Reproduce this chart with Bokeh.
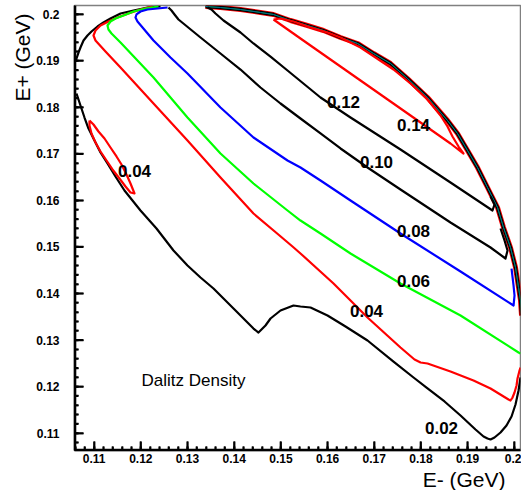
import numpy as np
from bokeh.plotting import figure
from bokeh.models import Range1d, FixedTicker, Title, CustomJSTickFormatter
from bokeh.embed import file_html
from bokeh.resources import INLINE
from bokeh.core.properties import value

# ---------------- data (E- , E+ in GeV) ----------------
# 0.02 contour, upper-left part along the kinematic boundary
c002a_x = [0.10599, 0.10664, 0.10706, 0.10771, 0.10856, 0.10942, 0.11071, 0.11199,
           0.11349, 0.11564, 0.11842, 0.12142, 0.12421]
c002a_y = [0.18984, 0.19177, 0.19285, 0.19435, 0.19543, 0.19628, 0.19736, 0.19822,
           0.19908, 0.20015, 0.20079, 0.20144, 0.20165]
# 0.02 contour, lower part
c002b_x = [0.10621, 0.10706, 0.10792, 0.10878, 0.11006, 0.11135, 0.11285, 0.11456,
           0.11649, 0.11992, 0.12335, 0.12699, 0.12999, 0.13278, 0.13556, 0.13985,
           0.14413, 0.14520, 0.14670, 0.14778, 0.14992, 0.15270, 0.15420, 0.15635,
           0.15999, 0.16385, 0.16856, 0.17413, 0.17842, 0.18142, 0.18506, 0.18849,
           0.19170, 0.19342, 0.19427, 0.19492, 0.19577, 0.19706, 0.19834, 0.19942,
           0.20027, 0.20092, 0.20134]
c002b_y = [0.18297, 0.18039, 0.17781, 0.17545, 0.17287, 0.17030, 0.16793, 0.16514,
           0.16213, 0.15784, 0.15397, 0.14925, 0.14603, 0.14345, 0.14109, 0.13679,
           0.13249, 0.13163, 0.13314, 0.13464, 0.13636, 0.13743, 0.13722, 0.13700,
           0.13529, 0.13292, 0.12992, 0.12540, 0.12197, 0.11961, 0.11682, 0.11381,
           0.11080, 0.10930, 0.10887, 0.10865, 0.10908, 0.11016, 0.11166, 0.11359,
           0.11617, 0.11918, 0.12197]
# 0.04 contour, main branch
c004_x = [0.12249, 0.11992, 0.11735, 0.11499, 0.11306, 0.11135, 0.11028, 0.10985,
          0.11028, 0.11242, 0.11564, 0.12271, 0.12999, 0.13706, 0.14413, 0.14920,
          0.15249, 0.15420, 0.16128, 0.16856, 0.17563, 0.17863, 0.17992, 0.18142,
          0.18634, 0.19127, 0.19492, 0.19877, 0.19920, 0.19963, 0.20006, 0.20049,
          0.20070, 0.20113, 0.20134]
c004_y = [0.20165, 0.20101, 0.20015, 0.19929, 0.19843, 0.19757, 0.19650, 0.19543,
          0.19435, 0.19199, 0.18855, 0.18082, 0.17287, 0.16493, 0.15719, 0.15290,
          0.15011, 0.14861, 0.14216, 0.13486, 0.12841, 0.12584, 0.12519, 0.12497,
          0.12326, 0.12133, 0.11961, 0.11724, 0.11703, 0.11767, 0.11875, 0.12025,
          0.12176, 0.12347, 0.12412]
# 0.04 contour, small island on the left
c004b_x = [0.10899, 0.10985, 0.11092, 0.11221, 0.11349, 0.11478, 0.11585, 0.11692,
           0.11778, 0.11864, 0.11778, 0.11671, 0.11542, 0.11392, 0.11264, 0.11135,
           0.11028, 0.10942, 0.10899, 0.10899]
c004b_y = [0.17717, 0.17631, 0.17481, 0.17330, 0.17137, 0.16944, 0.16772, 0.16557,
           0.16364, 0.16149, 0.16170, 0.16299, 0.16471, 0.16665, 0.16858, 0.17051,
           0.17244, 0.17438, 0.17609, 0.17717]
# 0.06 contour
c006_x = [0.12378, 0.12099, 0.11842, 0.11628, 0.11456, 0.11349, 0.11285, 0.11306,
          0.11371, 0.11564, 0.12271, 0.12999, 0.13706, 0.14413, 0.15142, 0.15420,
          0.15849, 0.16492, 0.17563, 0.18849, 0.20092, 0.20134]
c006_y = [0.20165, 0.20122, 0.20058, 0.19972, 0.19908, 0.19843, 0.19757, 0.19671,
          0.19585, 0.19392, 0.18640, 0.17781, 0.17008, 0.16364, 0.15784, 0.15569,
          0.15290, 0.14861, 0.14216, 0.13529, 0.12734, 0.12712]
# 0.08 contour
c008_x = [0.12571, 0.12356, 0.12142, 0.11992, 0.11906, 0.11885, 0.11928, 0.12271,
          0.12635, 0.12999, 0.13706, 0.14413, 0.15142, 0.15420, 0.15849, 0.16492,
          0.17563, 0.18849, 0.19985, 0.20006, 0.19985, 0.19942]
c008_y = [0.20144, 0.20122, 0.20101, 0.20058, 0.19994, 0.19929, 0.19843, 0.19435,
          0.19070, 0.18726, 0.17996, 0.17352, 0.16858, 0.16707, 0.16428, 0.15999,
          0.15290, 0.14474, 0.13743, 0.13958, 0.14173, 0.14538]
# 0.10 contour
c010_x = [0.12592, 0.12656, 0.12721, 0.12806, 0.13278, 0.13706, 0.14135, 0.14563,
          0.14992, 0.15420, 0.15849, 0.16278, 0.16856, 0.17563, 0.18634, 0.19492,
          0.19813, 0.19856, 0.19792, 0.19706]
c010_y = [0.20144, 0.20079, 0.19994, 0.19886, 0.19500, 0.19156, 0.18812, 0.18426,
          0.18082, 0.17760, 0.17438, 0.17116, 0.16707, 0.16235, 0.15526, 0.14989,
          0.14753, 0.14925, 0.15140, 0.15397]
# 0.12 contour
c012_x = [0.13428, 0.13513, 0.13599, 0.13771, 0.14135, 0.14413, 0.14778, 0.15142,
          0.15849, 0.16492, 0.17563, 0.18634, 0.19534, 0.19577, 0.19492]
c012_y = [0.20144, 0.20101, 0.20015, 0.19865, 0.19607, 0.19371, 0.19091, 0.18791,
          0.18211, 0.17781, 0.17094, 0.16385, 0.15784, 0.15913, 0.16084]
# 0.14 contour (closed)
c014_x = [0.14842, 0.15420, 0.16063, 0.16706, 0.17349, 0.17992, 0.18634, 0.18913,
          0.18806, 0.18677, 0.18570, 0.18420, 0.18142, 0.17777, 0.17413, 0.17027,
          0.16706, 0.16278, 0.15999, 0.15635, 0.15270, 0.14992, 0.14842]
c014_y = [0.19886, 0.19478, 0.19027, 0.18576, 0.18125, 0.17674, 0.17223, 0.17008,
          0.17158, 0.17373, 0.17588, 0.17824, 0.18168, 0.18512, 0.18812, 0.19070,
          0.19285, 0.19500, 0.19607, 0.19714, 0.19843, 0.19908, 0.19886]
# upper-right kinematic boundary where all levels pile up
edge_x = [0.13385, 0.13706, 0.14135, 0.14563, 0.14842, 0.15206, 0.15570, 0.15913,
          0.16278, 0.16642, 0.16985, 0.17349, 0.17713, 0.18142, 0.18570, 0.18784,
          0.18999, 0.19213, 0.19427, 0.19642, 0.19770, 0.19920, 0.20027, 0.20092,
          0.20134, 0.20156]
edge_y = [0.20165, 0.20144, 0.20101, 0.20037, 0.19994, 0.19865, 0.19757, 0.19650,
          0.19500, 0.19371, 0.19156, 0.18941, 0.18619, 0.18211, 0.17717, 0.17438,
          0.17073, 0.16707, 0.16278, 0.15848, 0.15419, 0.14989, 0.14560, 0.14130,
          0.13851, 0.13529]

# contour labels
label_text = ["0.12", "0.14", "0.10", "0.08", "0.06", "0.04", "0.02", "0.04"]
label_x = [0.16342, 0.17842, 0.17049, 0.17842, 0.17842, 0.16835, 0.18442, 0.11864]
label_y = [0.18125, 0.17631, 0.16836, 0.15333, 0.14259, 0.13636, 0.11123, 0.16622]
note_text = ["Dalitz Density"]
note_x = [0.13128]
note_y = [0.12133]

x_ticks = [0.11, 0.12, 0.13, 0.14, 0.15, 0.16, 0.17, 0.18, 0.19, 0.2]
x_tick_labels = ["0.11", "0.12", "0.13", "0.14", "0.15", "0.16", "0.17", "0.18", "0.19", "0.2"]
y_ticks = [0.11, 0.12, 0.13, 0.14, 0.15, 0.16, 0.17, 0.18, 0.19, 0.2]
y_tick_labels = ["0.11", "0.12", "0.13", "0.14", "0.15", "0.16", "0.17", "0.18", "0.19", "0.2"]

RED, GREEN, BLUE, BLACK = "#ff0000", "#00ff00", "#0000ff", "#000000"
FONT = "Liberation Sans"

X0, X1 = 0.10578, 0.20134
Y0, Y1 = 0.10629, 0.20187

p = figure(width=521, height=490, output_backend="svg", toolbar_location=None,
           x_range=Range1d(X0, X1), y_range=Range1d(Y0, Y1),
           min_border_left=74, min_border_right=1, min_border_top=5, min_border_bottom=38)
p.xgrid.visible = False
p.ygrid.visible = False
p.outline_line_color = "#808080"
p.outline_line_width = 1.5
p.background_fill_color = "white"
p.border_fill_color = "white"

minor = [float(t) for t in np.round(np.arange(0.106, 0.2021, 0.002), 3) if X0 < t < X1]
fmt_code = """
let b = 0;
for (let i = 0; i < tvals.length; i++) {
  if (Math.abs(tvals[i] - tick) < Math.abs(tvals[b] - tick)) b = i;
}
return tlabels[b];
"""
p.xaxis.ticker = FixedTicker(ticks=x_ticks, minor_ticks=minor)
p.yaxis.ticker = FixedTicker(ticks=y_ticks, minor_ticks=minor)
p.xaxis.formatter = CustomJSTickFormatter(args=dict(tvals=x_ticks, tlabels=x_tick_labels), code=fmt_code)
p.yaxis.formatter = CustomJSTickFormatter(args=dict(tvals=y_ticks, tlabels=y_tick_labels), code=fmt_code)
for ax in (p.xaxis[0], p.yaxis[0]):
    ax.axis_line_color = BLACK
    ax.axis_line_width = 1.5
    ax.major_tick_line_color = BLACK
    ax.minor_tick_line_color = BLACK
    ax.major_tick_line_width = 1.5
    ax.minor_tick_line_width = 1.5
    ax.major_tick_in = 9
    ax.major_tick_out = 0
    ax.minor_tick_in = 4
    ax.minor_tick_out = 0
    ax.major_label_text_font = FONT
    ax.major_label_text_font_style = "bold"
    ax.major_label_text_font_size = "12px"
    ax.major_label_text_color = BLACK
p.xaxis.major_label_standoff = 3
p.yaxis.major_label_standoff = 15

# axis titles, right-aligned near the axis ends as in ROOT
p.add_layout(Title(text="E- (GeV)", align="right", offset=15, standoff=0,
                   text_font=FONT, text_font_size="21px", text_font_style="normal",
                   text_color=BLACK), "below")
p.add_layout(Title(text="E+ (GeV)", align="right", offset=8, standoff=0,
                   text_font=FONT, text_font_size="21px", text_font_style="normal",
                   text_color=BLACK), "left")

# axis rules and inward tick marks (ROOT style), 9 px major / 4 px minor
sx = (X1 - X0) / 446.0
sy = (Y1 - Y0) / 445.0
xa = X0 + 0.8 * sx
ya = Y0 + 0.8 * sy
TW = 2
p.segment(x0=[X0], y0=[ya], x1=[X1], y1=[ya], line_color=BLACK, line_width=TW)
p.segment(x0=[xa], y0=[Y0], x1=[xa], y1=[Y1], line_color=BLACK, line_width=TW)
nx, nm = len(x_ticks), len(minor)
p.segment(x0=x_ticks, y0=[Y0] * nx, x1=x_ticks, y1=[Y0 + 9 * sy] * nx, line_color=BLACK, line_width=TW)
p.segment(x0=minor, y0=[Y0] * nm, x1=minor, y1=[Y0 + 4 * sy] * nm, line_color=BLACK, line_width=TW)
p.segment(x0=[X0] * len(y_ticks), y0=y_ticks, x1=[X0 + 9 * sx] * len(y_ticks), y1=y_ticks,
          line_color=BLACK, line_width=TW)
ym = [t for t in minor if Y0 < t < Y1]
p.segment(x0=[X0] * len(ym), y0=ym, x1=[X0 + 4 * sx] * len(ym), y1=ym, line_color=BLACK, line_width=TW)

LW = 2.2
# pile-up at the boundary
p.line(edge_x, edge_y, line_color=RED, line_width=5, line_join="round")
p.line(edge_x, edge_y, line_color=BLACK, line_width=3.4, line_join="round")
p.line(edge_x, edge_y, line_color=GREEN, line_width=1, line_join="round")
p.line(edge_x, edge_y, line_color=BLUE, line_width=0.6, line_join="round")

p.line(c002a_x, c002a_y, line_color=BLACK, line_width=LW, line_join="round")
p.line(c002b_x, c002b_y, line_color=BLACK, line_width=LW, line_join="round")
p.line(c004_x, c004_y, line_color=RED, line_width=LW, line_join="round")
p.line(c004b_x, c004b_y, line_color=RED, line_width=LW, line_join="round")
p.line(c006_x, c006_y, line_color=GREEN, line_width=LW, line_join="round")
p.line(c008_x, c008_y, line_color=BLUE, line_width=LW, line_join="round")
p.line(c010_x, c010_y, line_color=BLACK, line_width=LW, line_join="round")
p.line(c012_x, c012_y, line_color=BLACK, line_width=LW, line_join="round")
p.line(c014_x, c014_y, line_color=RED, line_width=LW, line_join="round")

p.text(x=label_x, y=label_y, text=label_text, text_font=value(FONT),
       text_font_style="bold", text_font_size="17px", text_color=BLACK,
       text_align="center", text_baseline="middle")
p.text(x=note_x, y=note_y, text=note_text, text_font=value(FONT),
       text_font_style="normal", text_font_size="17px", text_color=BLACK,
       text_align="center", text_baseline="middle")

open("out.html", "w").write(file_html(p, INLINE))
